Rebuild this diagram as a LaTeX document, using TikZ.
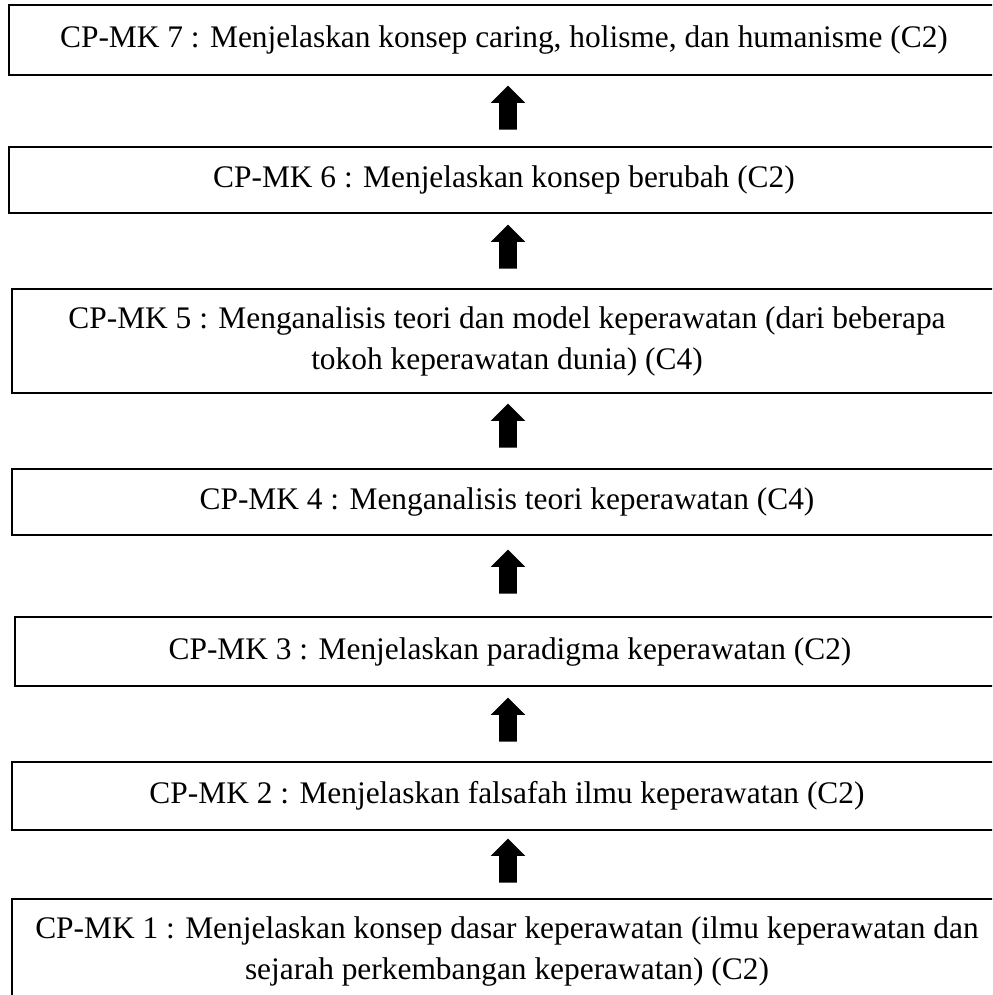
\documentclass[tikz,border=0pt]{standalone}
\usepackage{fontspec}
\setmainfont{Liberation Serif}
\usetikzlibrary{shapes.arrows}
\begin{document}
\begin{tikzpicture}[x=0.5pt,y=-0.5pt]
\tikzstyle{cpmk}=[draw=black, line width=0.6pt, rectangle, inner sep=0pt, minimum width=495pt, align=center, font=\fontsize{15.7}{20.5}\selectfont]
\tikzstyle{uparrow}=[single arrow, shape border rotate=90, fill=black, draw=none, inner xsep=4.25pt, inner ysep=0pt, minimum height=22pt, single arrow head extend=4.25pt, single arrow head indent=0pt]
\useasboundingbox (0,0) rectangle (992,995);
\clip (0,0) rectangle (992,995);
\node [cpmk, minimum height=35pt] (mk7) at (504,40) {CP-MK 7 : Menjelaskan konsep caring, holisme, dan humanisme (C2)};
\node [cpmk, minimum height=33pt] (mk6) at (504,180) {CP-MK 6 : Menjelaskan konsep berubah (C2)};
\node [cpmk, minimum height=52pt] (mk5) at (507,341) {CP-MK 5 : Menganalisis teori dan model keperawatan (dari beberapa\\tokoh keperawatan dunia) (C4)};
\node [cpmk, minimum height=33pt] (mk4) at (507,502) {CP-MK 4 : Menganalisis teori keperawatan (C4)};
\node [cpmk, minimum height=34.5pt] (mk3) at (510,651.5) {CP-MK 3 : Menjelaskan paradigma keperawatan (C2)};
\node [cpmk, minimum height=34pt] (mk2) at (507,796) {CP-MK 2 : Menjelaskan falsafah ilmu keperawatan (C2)};
\node [cpmk, minimum height=52pt] (mk1) at (507,951) {CP-MK 1 : Menjelaskan konsep dasar keperawatan (ilmu keperawatan dan\\sejarah perkembangan keperawatan) (C2)};
% panah antar CP-MK
\node [uparrow] (p76) at (508,112) {};
\node [uparrow] (p65) at (508,251) {};
\node [uparrow] (p54) at (508,430) {};
\node [uparrow] (p43) at (508,576) {};
\node [uparrow] (p32) at (508,724) {};
\node [uparrow] (p21) at (508,865) {};
\end{tikzpicture}
\end{document}
